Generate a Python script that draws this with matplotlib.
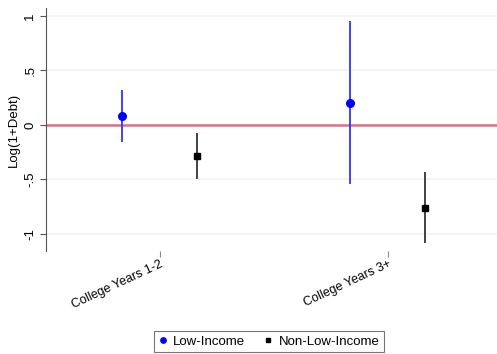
import matplotlib
matplotlib.use("Agg")
import matplotlib.pyplot as plt
import numpy as np

plt.rcParams["font.family"] = ["Liberation Sans", "DejaVu Sans"]

# Data
categories = ["College Years 1-2", "College Years 3+"]
low_est = [0.08, 0.20]
low_lo = [-0.155, -0.54]
low_hi = [0.32, 0.95]
non_est = [-0.28, -0.76]
non_lo = [-0.495, -1.08]
non_hi = [-0.07, -0.43]

ytick_vals = [-1, -0.5, 0, 0.5, 1]
ytick_labels = ["-1", "-.5", "0", ".5", "1"]

x = np.arange(1, len(categories) + 1)
off = 0.165

fig = plt.figure(figsize=(4.97, 3.54), dpi=100)
ax = fig.add_axes([46 / 497, 1 - 251 / 354, 451 / 497, 243 / 354])

for yv in ytick_vals:
    ax.axhline(yv, color="#eef3f4", lw=1.2, zorder=0)
ax.axhline(0, color="#d9708a", lw=1.8, zorder=1)

ax.vlines(x - off, low_lo, low_hi, color="#3333ff", lw=1.3, zorder=2)
ax.plot(x - off, low_est, "o", color="#0000ff", ms=5.5, zorder=3, label="Low-Income")
ax.vlines(x + off, non_lo, non_hi, color="#333333", lw=1.3, zorder=2)
ax.plot(x + off, non_est, "s", color="black", ms=5, zorder=3, label="Non-Low-Income")

ax.set_xlim(0.5, 2.48)
ax.set_ylim(-1.156, 1.073)
ax.set_xticks(x)
ax.set_xticklabels(categories, rotation=25, ha="right", rotation_mode="anchor", fontsize=9)
ax.set_yticks(ytick_vals)
ax.set_yticklabels(ytick_labels, rotation=90, va="center", fontsize=9.5)
ax.set_ylabel("Log(1+Debt)", fontsize=9.5, labelpad=3)

for s in ["top", "right", "bottom"]:
    ax.spines[s].set_visible(False)
ax.spines["left"].set_color("#555555")
ax.tick_params(axis="y", length=4, color="#555555", pad=3)
ax.tick_params(axis="x", length=4, color="#888888", pad=1)

leg = ax.legend(loc="center", bbox_to_anchor=(269 / 497, 1 - 341.5 / 354),
                bbox_transform=fig.transFigure, ncol=2, frameon=True,
                fancybox=False, edgecolor="#555555", fontsize=9.5,
                handlelength=0.7, handletextpad=0.4, columnspacing=1.4,
                borderpad=0.35, markerscale=0.7)
leg.get_frame().set_linewidth(0.8)

fig.savefig("out.png", dpi=100)
